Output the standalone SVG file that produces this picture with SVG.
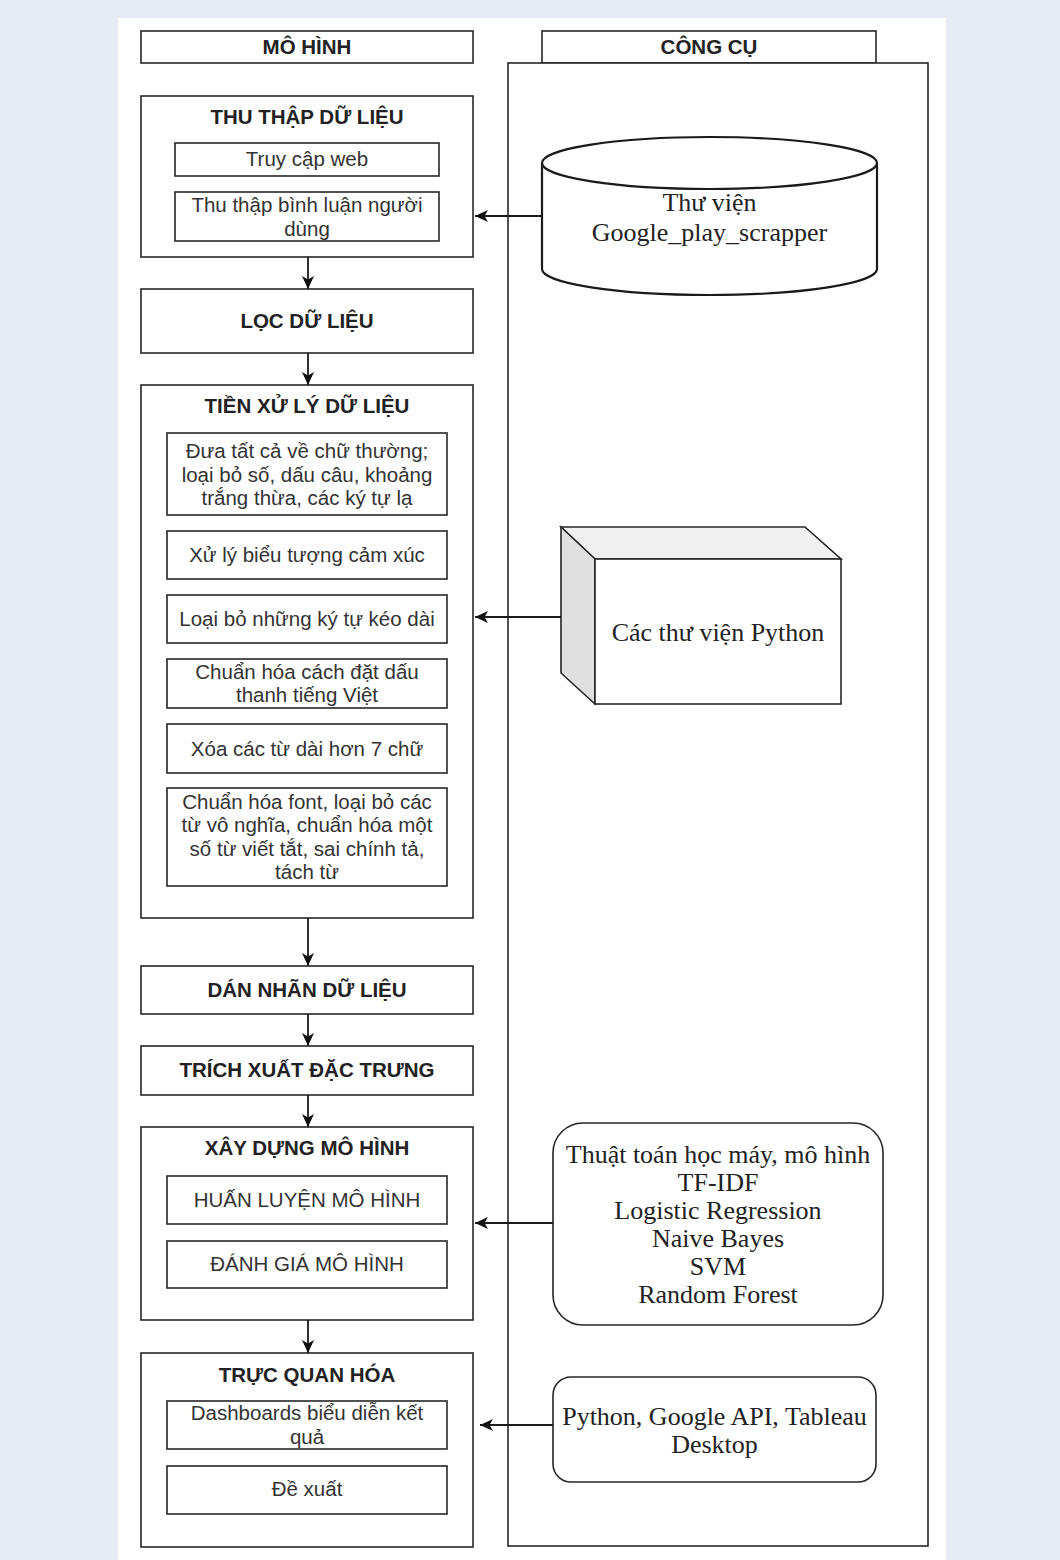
<svg xmlns="http://www.w3.org/2000/svg" width="1060" height="1560" viewBox="0 0 1060 1560">
<defs>
<style>
.box{fill:#ffffff;stroke:#262626;stroke-width:1.6}
.shape{fill:#ffffff;stroke:#1a1a1a;stroke-width:2.2}
.t{font-family:"Liberation Sans",Arial,sans-serif;font-size:20.5px;fill:#333333;text-anchor:middle}
.b{font-family:"Liberation Sans",Arial,sans-serif;font-size:20.5px;font-weight:bold;fill:#222222;text-anchor:middle}
.s{font-family:"Liberation Serif","Times New Roman",serif;font-size:26px;fill:#222222;text-anchor:middle}
.c{fill:none;stroke:#1a1a1a;stroke-width:1.8}
</style>
<marker id="arr" viewBox="0 0 14 14" refX="13" refY="7" markerWidth="14" markerHeight="14" markerUnits="userSpaceOnUse" orient="auto">
<path d="M13,7 L0,1 L3.5,7 L0,13 z" fill="#111111"/>
</marker>
</defs>
<rect x="0" y="0" width="1060" height="1560" fill="#e7ebf5"/>
<rect x="118" y="18" width="828" height="1542" fill="#ffffff"/>

<g id="header-mohinh">
<rect class="box" x="141" y="31" width="332" height="32"/>
<text class="b" x="307" y="54">MÔ HÌNH</text>
</g>
<g id="header-congcu">
<rect class="box" x="542" y="31" width="334" height="32"/>
<text class="b" x="709" y="54">CÔNG CỤ</text>
</g>
<g id="congcu-panel">
<rect class="box" x="508" y="63" width="420" height="1483" fill="none"/>
</g>

<g id="thu-thap">
<rect class="box" x="141" y="96" width="332" height="161"/>
<text class="b" x="307" y="124">THU THẬP DỮ LIỆU</text>
<rect class="box" x="175" y="143" width="264" height="33"/>
<text class="t" x="307" y="166">Truy cập web</text>
<rect class="box" x="175" y="192" width="264" height="49"/>
<text class="t" x="307" y="211.5">Thu thập bình luận người</text>
<text class="t" x="307" y="235.5">dùng</text>
</g>

<g id="loc">
<rect class="box" x="141" y="289" width="332" height="64"/>
<text class="b" x="307" y="328">LỌC DỮ LIỆU</text>
</g>

<g id="tien-xu-ly">
<rect class="box" x="141" y="385" width="332" height="533"/>
<text class="b" x="307" y="413">TIỀN XỬ LÝ DỮ LIỆU</text>
<rect class="box" x="167" y="433" width="280" height="82"/>
<text class="t" x="307" y="458">Đưa tất cả về chữ thường;</text>
<text class="t" x="307" y="481.5">loại bỏ số, dấu câu, khoảng</text>
<text class="t" x="307" y="505">trắng thừa, các ký tự lạ</text>
<rect class="box" x="167" y="531" width="280" height="48"/>
<text class="t" x="307" y="562">Xử lý biểu tượng cảm xúc</text>
<rect class="box" x="167" y="595" width="280" height="48"/>
<text class="t" x="307" y="626">Loại bỏ những ký tự kéo dài</text>
<rect class="box" x="167" y="659" width="280" height="49"/>
<text class="t" x="307" y="678.5">Chuẩn hóa cách đặt dấu</text>
<text class="t" x="307" y="702">thanh tiếng Việt</text>
<rect class="box" x="167" y="724" width="280" height="49"/>
<text class="t" x="307" y="755.5">Xóa các từ dài hơn 7 chữ</text>
<rect class="box" x="167" y="788" width="280" height="98"/>
<text class="t" x="307" y="808.5">Chuẩn hóa font, loại bỏ các</text>
<text class="t" x="307" y="832">từ vô nghĩa, chuẩn hóa một</text>
<text class="t" x="307" y="855.5">số từ viết tắt, sai chính tả,</text>
<text class="t" x="307" y="879">tách từ</text>
</g>

<g id="dan-nhan">
<rect class="box" x="141" y="966" width="332" height="48"/>
<text class="b" x="307" y="996.5">DÁN NHÃN DỮ LIỆU</text>
</g>

<g id="trich-xuat">
<rect class="box" x="141" y="1046" width="332" height="49"/>
<text class="b" x="307" y="1077">TRÍCH XUẤT ĐẶC TRƯNG</text>
</g>

<g id="xay-dung">
<rect class="box" x="141" y="1127" width="332" height="193"/>
<text class="b" x="307" y="1155">XÂY DỰNG MÔ HÌNH</text>
<rect class="box" x="167" y="1176" width="280" height="48"/>
<text class="t" x="307" y="1207">HUẤN LUYỆN MÔ HÌNH</text>
<rect class="box" x="167" y="1241" width="280" height="47"/>
<text class="t" x="307" y="1271">ĐÁNH GIÁ MÔ HÌNH</text>
</g>

<g id="truc-quan">
<rect class="box" x="141" y="1353" width="332" height="194"/>
<text class="b" x="307" y="1382">TRỰC QUAN HÓA</text>
<rect class="box" x="167" y="1401" width="280" height="48"/>
<text class="t" x="307" y="1420">Dashboards biểu diễn kết</text>
<text class="t" x="307" y="1443.5">quả</text>
<rect class="box" x="167" y="1466" width="280" height="48"/>
<text class="t" x="307" y="1496">Đề xuất</text>
</g>

<g id="google-play-scrapper">
<path class="shape" d="M542,163 A167.5,26 0 0 1 877,163 V269 A167.5,26 0 0 1 542,269 Z"/>
<path class="shape" fill="none" d="M542,163 A167.5,26 0 0 0 877,163"/>
<text class="s" x="709.5" y="211">Thư viện</text>
<text class="s" x="709.5" y="241">Google_play_scrapper</text>
</g>

<g id="python-libs">
<polygon points="561,527 805,527 841,559 595,559" fill="#f0f0f0" stroke="#262626" stroke-width="1.6"/>
<polygon points="561,527 595,559 595,704 561,673" fill="#e0e0e0" stroke="#262626" stroke-width="1.6"/>
<rect class="box" x="595" y="559" width="246" height="145"/>
<text class="s" x="718" y="641">Các thư viện Python</text>
</g>

<g id="ml-algorithms">
<rect class="box" x="553" y="1123" width="330" height="202" rx="30" ry="30"/>
<text class="s" x="718" y="1163">Thuật toán học máy, mô hình</text>
<text class="s" x="718" y="1191">TF-IDF</text>
<text class="s" x="718" y="1219">Logistic Regression</text>
<text class="s" x="718" y="1247">Naive Bayes</text>
<text class="s" x="718" y="1275">SVM</text>
<text class="s" x="718" y="1303">Random Forest</text>
</g>

<g id="viz-tools">
<rect class="box" x="553" y="1377" width="323" height="105" rx="18" ry="18"/>
<text class="s" x="714.5" y="1425">Python, Google API, Tableau</text>
<text class="s" x="714.5" y="1453">Desktop</text>
</g>

<g id="connectors">
<line class="c" x1="308" y1="257" x2="308" y2="289" marker-end="url(#arr)"/>
<line class="c" x1="308" y1="353" x2="308" y2="385" marker-end="url(#arr)"/>
<line class="c" x1="308" y1="918" x2="308" y2="966" marker-end="url(#arr)"/>
<line class="c" x1="308" y1="1014" x2="308" y2="1046" marker-end="url(#arr)"/>
<line class="c" x1="308" y1="1095" x2="308" y2="1127" marker-end="url(#arr)"/>
<line class="c" x1="308" y1="1320" x2="308" y2="1353" marker-end="url(#arr)"/>
<line class="c" x1="542" y1="216" x2="475" y2="216" marker-end="url(#arr)"/>
<line class="c" x1="561" y1="617" x2="475" y2="617" marker-end="url(#arr)"/>
<line class="c" x1="553" y1="1223" x2="475" y2="1223" marker-end="url(#arr)"/>
<line class="c" x1="553" y1="1425" x2="480" y2="1425" marker-end="url(#arr)"/>
</g>
</svg>
